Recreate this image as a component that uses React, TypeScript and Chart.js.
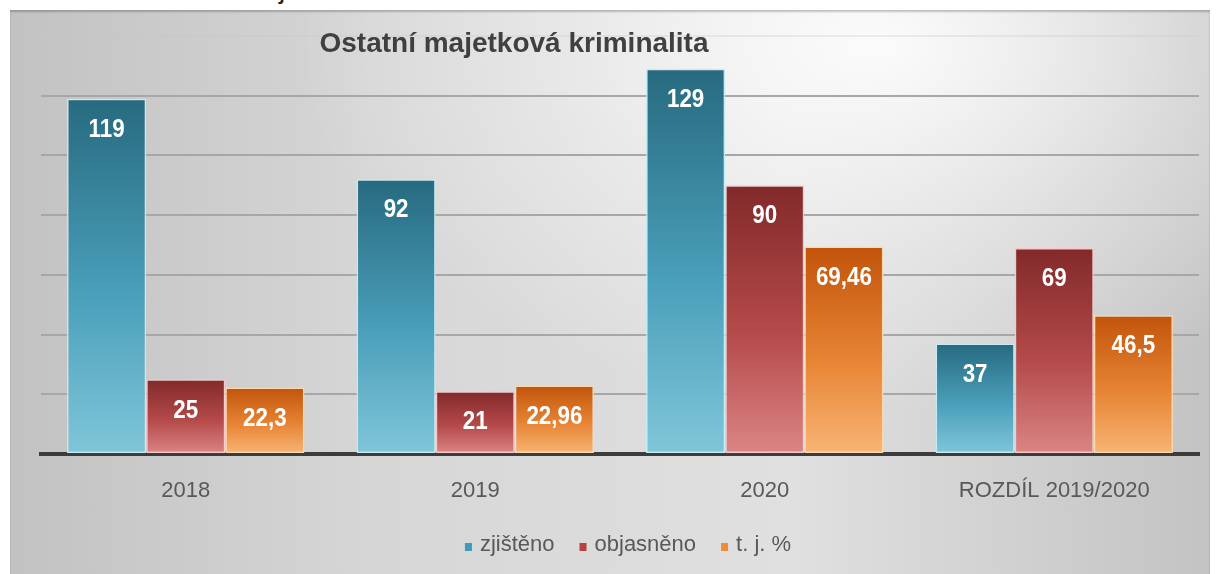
import React, { useEffect, useRef } from "react";
import { Chart, registerables } from "chart.js";

Chart.register(...registerables);

// ---- data ----
const categories = ["2018", "2019", "2020", "ROZDÍL 2019/2020"];
const zjisteno = [119, 92, 129, 37];
const objasneno = [25, 21, 90, 69];
const tjProcent = [22.3, 22.96, 69.46, 46.5];
const seriesNames = ["zjištěno", "objasněno", "t. j. %"];
const yMin = 0;
const yMax = 140;
const yStep = 20;
const chartTitle = "Ostatní majetková kriminalita";
const captionText = "Graf č. 6 Ostatní majetková kriminalita";

const FONT = '"Liberation Sans", Arial, sans-serif';

const palettes = [
  { stops: ["#276a7f", "#4a9fba", "#80c6d9"], border: "#c6eaf4", legend: "#3b9cba" },
  { stops: ["#822929", "#b54a4a", "#db8585"], border: "#f3c9c9", legend: "#b64242" },
  { stops: ["#c1540b", "#e78434", "#f8b576"], border: "#fcd8ae", legend: "#ef8b36" },
];

function barFill(idx: number) {
  return (ctx: any) => {
    const chart = ctx.chart;
    const p = palettes[idx];
    if (!chart.chartArea || ctx.type !== "data") return p.stops[1];
    const y = chart.scales.y;
    const top = y.getPixelForValue(ctx.raw);
    const base = y.getPixelForValue(0);
    if (!isFinite(top) || !isFinite(base) || base - top < 1) return p.stops[1];
    const g = chart.ctx.createLinearGradient(0, top, 0, base);
    g.addColorStop(0, p.stops[0]);
    g.addColorStop(0.55, p.stops[1]);
    g.addColorStop(1, p.stops[2]);
    return g;
  };
}

function drawText(
  c: CanvasRenderingContext2D,
  txt: string,
  x: number,
  y: number,
  font: string,
  color: string,
  sx: number,
  align: CanvasTextAlign,
  baseline: CanvasTextBaseline
) {
  c.save();
  c.translate(x, y);
  c.scale(sx, 1);
  c.font = font;
  c.fillStyle = color;
  c.textAlign = align;
  c.textBaseline = baseline;
  c.fillText(txt, 0, 0);
  c.restore();
}

const fmt = (v: number) => String(v).replace(".", ",");

const textPlugin = {
  id: "customText",
  afterDatasetsDraw(chart: any) {
    const c = chart.ctx as CanvasRenderingContext2D;
    chart.data.datasets.forEach((ds: any, di: number) => {
      const meta = chart.getDatasetMeta(di);
      meta.data.forEach((bar: any, i: number) => {
        drawText(c, fmt(ds.data[i]), bar.x, bar.y + 31, `bold 26px ${FONT}`, "#ffffff", 0.86, "center", "middle");
      });
    });
  },
  afterDraw(chart: any) {
    const c = chart.ctx as CanvasRenderingContext2D;
    const xs = chart.scales.x;
    const area = chart.chartArea;
    // category labels
    chart.data.labels.forEach((lab: string, i: number) => {
      drawText(c, lab, xs.getPixelForValue(i), area.bottom + 43, `22px ${FONT}`, "#595959", 1, "center", "alphabetic");
    });
    // title
    drawText(c, chartTitle, 504, 42, `bold 28px ${FONT}`, "#404040", 1, "center", "alphabetic");
    // legend
    c.save();
    c.font = `22px ${FONT}`;
    const sq = 8;
    const gapBox = 7;
    const gapItem = 25;
    const widths = seriesNames.map((n) => c.measureText(n).width);
    const total = widths.reduce((a, w) => a + sq + gapBox + w, 0) + gapItem * (seriesNames.length - 1);
    let x = 618 - total / 2;
    const baseY = 541;
    seriesNames.forEach((n, i) => {
      c.fillStyle = palettes[i].legend;
      c.fillRect(x, baseY - sq, sq - 1, sq);
      x += sq + gapBox;
      c.fillStyle = "#595959";
      c.textAlign = "left";
      c.textBaseline = "alphabetic";
      c.fillText(n, x, baseY);
      x += widths[i] + gapItem;
    });
    c.restore();
  },
};

export default function App() {
  const ref = useRef<HTMLCanvasElement | null>(null);

  useEffect(() => {
    if (!ref.current) return;
    const seriesData = [zjisteno, objasneno, tjProcent];
    const chart = new Chart(ref.current, {
      type: "bar",
      data: {
        labels: categories,
        datasets: seriesData.map((d, i) => ({
          label: seriesNames[i],
          data: d,
          backgroundColor: barFill(i),
          borderColor: palettes[i].border,
          borderWidth: 1.5,
          borderSkipped: false,
          barPercentage: 1,
          categoryPercentage: 0.82,
        })),
      },
      options: {
        responsive: false,
        animation: false,
        devicePixelRatio: 1,
        layout: { padding: { left: 31, right: 11, top: 26, bottom: 120 } },
        plugins: {
          legend: { display: false },
          title: { display: false },
          tooltip: { enabled: false },
        },
        scales: {
          x: {
            z: 1,
            grid: { display: false, drawTicks: false },
            border: { display: true, color: "#3c3c3c", width: 4 },
            ticks: { display: false },
          },
          y: {
            min: yMin,
            max: yMax,
            grid: {
              drawTicks: false,
              lineWidth: 2,
              color: (ctx: any) => {
                const v = ctx.tick ? ctx.tick.value : null;
                if (v === yMin) return "rgba(0,0,0,0)";
                if (v === yMax) return "rgba(200,200,200,0.3)";
                return "#a7a7a7";
              },
            },
            border: { display: false },
            ticks: { display: false, stepSize: yStep },
          },
        },
      },
      plugins: [textPlugin],
    });
    return () => chart.destroy();
  }, []);

  return (
    <div
      style={{
        position: "fixed",
        left: 0,
        top: 0,
        width: 1216,
        height: 574,
        background: "#ffffff",
        overflow: "hidden",
      }}
    >
      <div
        style={{
          position: "absolute",
          left: 27,
          top: -25,
          fontFamily: FONT,
          fontSize: 28,
          lineHeight: "28px",
          color: "#222",
          whiteSpace: "nowrap",
        }}
      >
        {captionText}
      </div>
      <div
        style={{
          position: "absolute",
          left: 10,
          top: 10,
          width: 1200,
          height: 564,
          background:
            "radial-gradient(ellipse 48% 65% at 72% 6%, rgba(255,255,255,0.9) 0%, rgba(255,255,255,0.35) 55%, rgba(255,255,255,0) 100%), linear-gradient(to right, #c2c2c2 0%, #d6d6d6 30%, #e0e0e0 65%, #c3c3c3 100%)",
          boxShadow: "inset 0 2px 2px rgba(0,0,0,0.22)",
        }}
      >
        <canvas ref={ref} width={1200} height={564} style={{ display: "block" }} />
      </div>
    </div>
  );
}
